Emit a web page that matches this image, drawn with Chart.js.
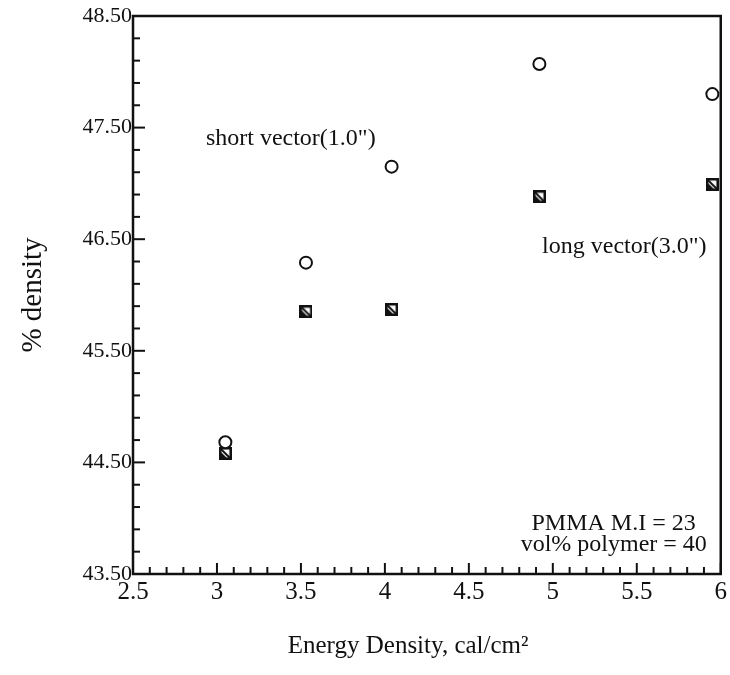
<!DOCTYPE html>
<html>
<head>
<meta charset="utf-8">
<script src="https://cdn.jsdelivr.net/npm/chart.js@4"></script>
<style>
  body { margin: 0; background: #fff; }
  #wrap { width: 730px; height: 675px; }
</style>
</head>
<body>
<div id="wrap"><canvas id="chart" width="730" height="675"></canvas></div>
<script>
// energy density (cal/cm2) and % density
const energy = [3.05, 3.53, 4.04, 4.92, 5.95];
const shortVector = [44.68, 46.29, 47.15, 48.07, 47.80];
const longVector = [44.58, 45.85, 45.87, 46.88, 46.99];

const xLabels = ['2.5', '3', '3.5', '4', '4.5', '5', '5.5', '6'];
const yLabels = ['43.50', '44.50', '45.50', '46.50', '47.50', '48.50'];

// text notes placed in data units
const notes = [
    { text: 'short vector(1.0")', x: 2.934, y: 47.34, align: 'left' },
    { text: 'long vector(3.0")', x: 4.936, y: 46.38, align: 'left' },
    { text: 'PMMA M.I = 23', x: 5.851, y: 43.895, align: 'right' },
    { text: 'vol% polymer = 40', x: 5.917, y: 43.71, align: 'right' }
];

const serif = '"Liberation Serif", "DejaVu Serif", serif';
const ink = '#111';

// square marker with a diagonal stroke
function squareMarker() {
    const c = document.createElement('canvas');
    c.width = 13;
    c.height = 13;
    const g = c.getContext('2d');
    g.fillStyle = '#fff';
    g.fillRect(0, 0, 13, 13);
    g.strokeStyle = ink;
    g.lineWidth = 2.5;
    g.strokeRect(1.25, 1.25, 10.5, 10.5);
    g.lineWidth = 2;
    g.beginPath();
    g.moveTo(2, 2);
    g.lineTo(11, 11);
    g.stroke();
    g.fillStyle = ink;
    g.beginPath();
    g.moveTo(2, 5);
    g.lineTo(2, 11);
    g.lineTo(8, 11);
    g.closePath();
    g.fill();
    return c;
}

function toPoints(xs, ys) {
    return xs.map((x, i) => ({ x: x, y: ys[i] }));
}

// inward tick marks, frame and notes
const framePlugin = {
    id: 'frame',
    afterDraw(chart) {
        const ctx = chart.ctx;
        const a = chart.chartArea;
        const xs = chart.scales.x;
        const ys = chart.scales.y;
        ctx.save();
        ctx.strokeStyle = ink;
        ctx.lineWidth = 2;
        xs.ticks.forEach((t, i) => {
            const px = xs.getPixelForValue(t.value);
            const len = i % 5 === 0 ? 11 : 7;
            ctx.beginPath();
            ctx.moveTo(px, a.bottom);
            ctx.lineTo(px, a.bottom - len);
            ctx.stroke();
        });
        ys.ticks.forEach((t, i) => {
            const py = ys.getPixelForValue(t.value);
            const len = i % 5 === 0 ? 12 : 7;
            ctx.beginPath();
            ctx.moveTo(a.left, py);
            ctx.lineTo(a.left + len, py);
            ctx.stroke();
        });
        ctx.lineWidth = 2.5;
        ctx.strokeRect(a.left, a.top, a.right - a.left, a.bottom - a.top);

        ctx.fillStyle = ink;
        ctx.font = '24px ' + serif;
        ctx.textBaseline = 'alphabetic';
        notes.forEach(n => {
            ctx.textAlign = n.align;
            ctx.fillText(n.text, xs.getPixelForValue(n.x), ys.getPixelForValue(n.y));
        });
        ctx.restore();
    }
};

new Chart(document.getElementById('chart'), {
    type: 'scatter',
    data: {
        datasets: [
            {
                label: 'short vector(1.0")',
                data: toPoints(energy, shortVector),
                pointStyle: 'circle',
                pointRadius: 6,
                borderWidth: 2,
                borderColor: ink,
                backgroundColor: '#fff'
            },
            {
                label: 'long vector(3.0")',
                data: toPoints(energy, longVector),
                pointStyle: squareMarker(),
                pointRadius: 6
            }
        ]
    },
    options: {
        responsive: false,
        animation: false,
        layout: { padding: { top: 16, right: 6, left: 0, bottom: 0 } },
        plugins: {
            legend: { display: false },
            tooltip: { enabled: false }
        },
        scales: {
            x: {
                type: 'linear',
                min: 2.5,
                max: 6,
                afterBuildTicks(scale) {
                    const t = [];
                    for (let i = 0; i <= 35; i++) t.push({ value: Math.round((2.5 + i * 0.1) * 10) / 10 });
                    scale.ticks = t;
                },
                afterFit(scale) { scale.height = 101; },
                grid: { display: false, drawTicks: false },
                border: { display: false },
                ticks: {
                    autoSkip: false,
                    maxRotation: 0,
                    padding: 3,
                    color: ink,
                    font: { family: serif, size: 25 },
                    callback: (v, i) => (i % 5 === 0 ? xLabels[i / 5] : '')
                },
                title: {
                    display: true,
                    text: 'Energy Density, cal/cm²\u2002\u2002\u2002',
                    color: ink,
                    font: { family: serif, size: 25 },
                    padding: { top: 0, bottom: 14 }
                }
            },
            y: {
                type: 'linear',
                min: 43.5,
                max: 48.5,
                afterBuildTicks(scale) {
                    const t = [];
                    for (let i = 0; i <= 25; i++) t.push({ value: Math.round((43.5 + i * 0.2) * 10) / 10 });
                    scale.ticks = t;
                },
                afterFit(scale) { scale.width = 133; },
                grid: { display: false, drawTicks: false },
                border: { display: false },
                ticks: {
                    autoSkip: false,
                    padding: 1,
                    color: ink,
                    font: { family: serif, size: 22 },
                    callback: (v, i) => (i % 5 === 0 ? yLabels[i / 5] : '')
                },
                title: {
                    display: true,
                    text: '% density',
                    color: ink,
                    font: { family: serif, size: 29 },
                    padding: { top: 16, bottom: 0 }
                }
            }
        }
    },
    plugins: [framePlugin]
});
</script>
</body>
</html>
